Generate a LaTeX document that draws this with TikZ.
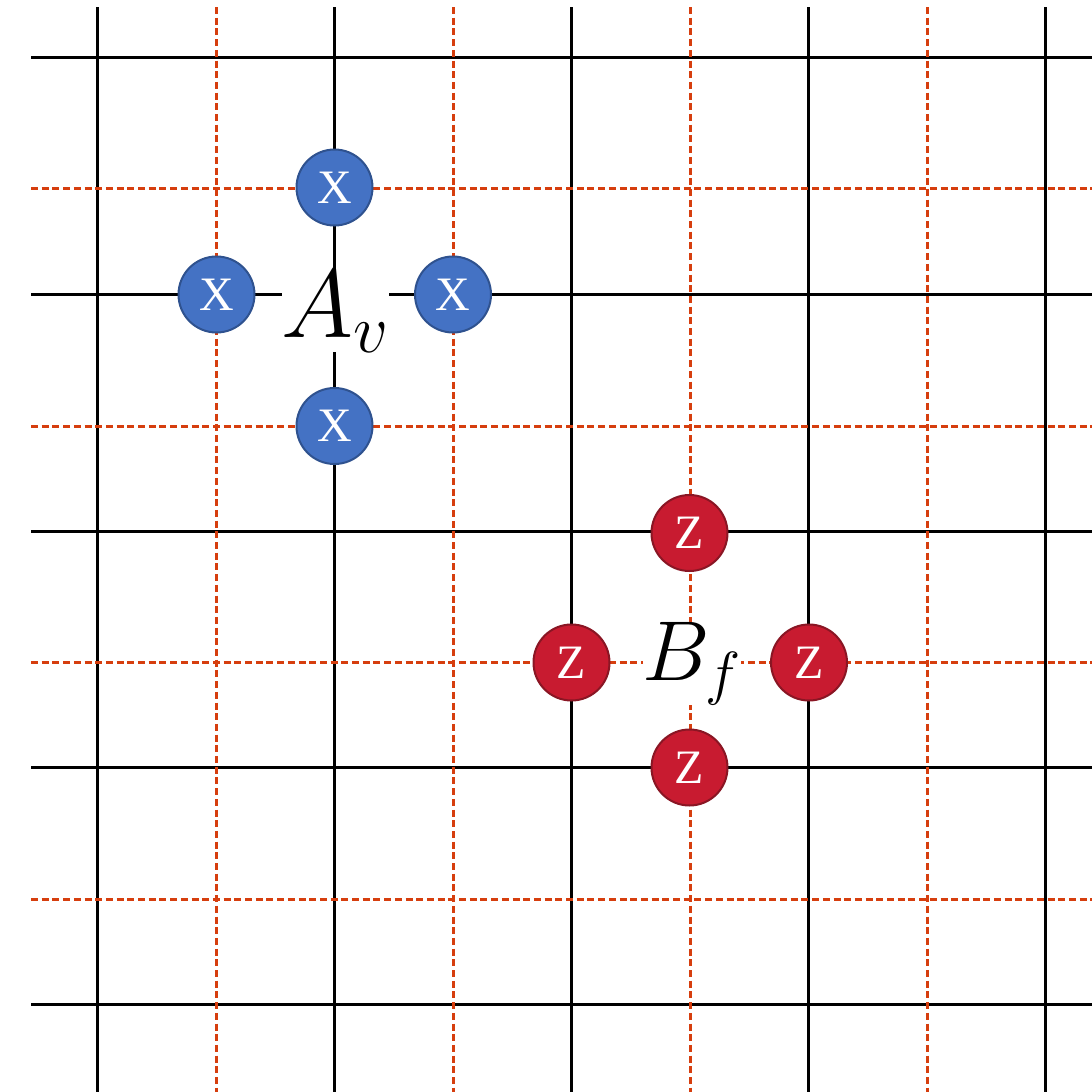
\RequirePackage{fix-cm}
\documentclass[tikz,border=0pt]{standalone}
\usepackage{fontspec}
\newfontfamily\tnr{Liberation Serif}
\definecolor{gridred}{RGB}{214,62,14}
\definecolor{xfill}{RGB}{68,114,196}
\definecolor{xline}{RGB}{47,82,143}
\definecolor{zfill}{RGB}{200,27,48}
\definecolor{zline}{RGB}{138,22,36}
\tikzset{
  solidgrid/.style={black,line width=3pt},
  dashgrid/.style={gridred,line width=3pt,dash pattern=on 7pt off 3.7pt},
  qubit/.style={circle,minimum size=76pt,inner sep=0pt,line width=2pt,text=white,font=\tnr\fontsize{48}{48}\selectfont},
  xq/.style={qubit,fill=xfill,draw=xline},
  zq/.style={qubit,fill=zfill,draw=zline},
  lbl/.style={fill=white,inner sep=0pt,text=black}
}
\begin{document}
\begin{tikzpicture}[x=1pt,y=-1pt]
\useasboundingbox (0,0) rectangle (1092,1092);
% solid grid
\foreach \x in {97,334,571,808,1045}
  \draw[solidgrid] (\x,7) -- (\x,1092);
\foreach \y in {57,294,531,767,1004}
  \draw[solidgrid] (31,\y) -- (1092,\y);
% dashed grid
\foreach \x in {216,453,690,927}
  \draw[dashgrid] (\x,7) -- (\x,1092);
\foreach \y in {188,426,662,899}
  \draw[dashgrid] (31,\y) -- (1092,\y);
% labels
\node[lbl,font=\fontsize{98}{98}\selectfont] (Av) at (335.5,311.5) {$A_v$};
\node[lbl,font=\fontsize{85}{85}\selectfont] (Bf) at (692,664) {$B_f$};
% X qubits
\node[xq] (x1) at (334.5,187.5) {X};
\node[xq] (x2) at (216.5,294.5) {X};
\node[xq] (x3) at (453,294.5) {X};
\node[xq] (x4) at (334.5,426) {X};
% Z qubits
\node[zq] (z1) at (689.5,533) {Z};
\node[zq] (z2) at (571.5,662.5) {Z};
\node[zq] (z3) at (809,662.5) {Z};
\node[zq] (z4) at (689.5,767.5) {Z};
\end{tikzpicture}
\end{document}
